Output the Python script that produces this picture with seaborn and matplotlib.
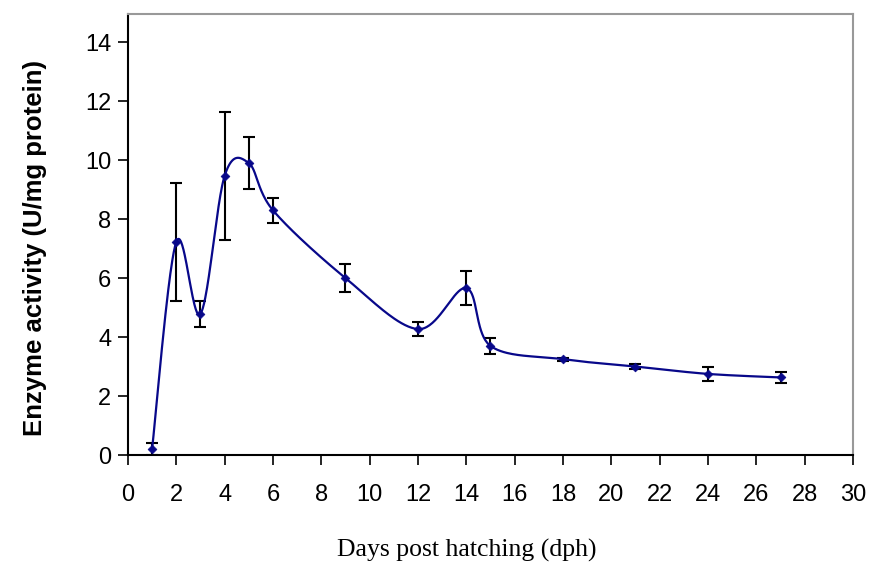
import numpy as np
import pandas as pd
import matplotlib
matplotlib.use("Agg")
import matplotlib.pyplot as plt
import seaborn as sns

# Data
days = [1, 2, 3, 4, 5, 6, 9, 12, 14, 15, 18, 21, 24, 27]
activity = [0.20, 7.22, 4.78, 9.46, 9.90, 8.30, 6.00, 4.27, 5.66, 3.70, 3.25, 3.00, 2.75, 2.63]
errors = [0.20, 2.00, 0.43, 2.17, 0.87, 0.43, 0.48, 0.25, 0.58, 0.27, 0.05, 0.07, 0.25, 0.20]
x_ticks = list(range(0, 31, 2))
y_ticks = list(range(0, 15, 2))

sns.set_theme(style="white")
plt.rcParams['font.family'] = ['Liberation Sans', 'DejaVu Sans']
plt.rcParams['text.color'] = 'black'
plt.rcParams['axes.labelcolor'] = 'black'
plt.rcParams['xtick.color'] = 'black'
plt.rcParams['ytick.color'] = 'black'


def smooth_curve(xs, ys, n=40):
    """Catmull-Rom style Bezier smoothing (like a spreadsheet smoothed line)."""
    pts = np.column_stack([xs, ys]).astype(float)
    m = len(pts)
    out = []
    for i in range(m - 1):
        p0 = pts[i - 1] if i > 0 else pts[i]
        p1 = pts[i]
        p2 = pts[i + 1]
        p3 = pts[i + 2] if i + 2 < m else pts[i + 1]
        c1 = p1 + (p2 - p0) / 6.0
        c2 = p2 - (p3 - p1) / 6.0
        t = np.linspace(0, 1, n, endpoint=(i == m - 2))[:, None]
        seg = ((1 - t) ** 3) * p1 + 3 * ((1 - t) ** 2) * t * c1 + 3 * (1 - t) * t ** 2 * c2 + t ** 3 * p2
        out.append(seg)
    out = np.vstack(out)
    return out[:, 0], out[:, 1]


sx, sy = smooth_curve(days, activity)
curve = pd.DataFrame({"x": sx, "y": sy})
pts = pd.DataFrame({"day": days, "activity": activity, "err": errors})

fig = plt.figure(figsize=(8.7, 5.63), dpi=100)
ax = fig.add_axes([0.147, 0.1918, 0.8335, 0.7832])

navy = "#08088a"
ax.errorbar(pts["day"], pts["activity"], yerr=pts["err"], fmt="none",
            ecolor="black", elinewidth=1.5, capsize=4.5, capthick=1.5, zorder=2)
sns.lineplot(data=curve, x="x", y="y", ax=ax, color=navy, linewidth=1.6,
             sort=False, estimator=None, zorder=3)
sns.scatterplot(data=pts, x="day", y="activity", ax=ax, marker="D", s=20,
                color=navy, edgecolor=navy, linewidth=0.5, zorder=4)

ax.set_xlim(0, 30)
ax.set_ylim(0, 14.95)
ax.set_xticks(x_ticks)
ax.set_yticks(y_ticks)
ax.set_xticklabels([str(v) for v in x_ticks], fontsize=17, color="black")
ax.set_yticklabels([str(v) for v in y_ticks], fontsize=17, color="black")

ax.tick_params(axis="x", direction="out", length=7, width=1.2, pad=14, colors="black")
ax.tick_params(axis="y", direction="out", length=7, width=1.2, pad=5, colors="black")
ax.tick_params(bottom=True, left=True, top=False, right=False)

for side in ["left", "bottom"]:
    ax.spines[side].set_color("black")
    ax.spines[side].set_linewidth(1.5)
for side in ["top", "right"]:
    ax.spines[side].set_visible(True)
    ax.spines[side].set_color("#999999")
    ax.spines[side].set_linewidth(1.5)

ax.set_xlabel("Days post hatching (dph)", fontsize=18.5, color="black",
              family=['Liberation Serif', 'DejaVu Serif'])
ax.xaxis.set_label_coords(0.4676, -0.19)
ax.set_ylabel("Enzyme activity (U/mg protein)", fontsize=18.5, fontweight="bold",
              color="black")
ax.yaxis.set_label_coords(-0.112, 0.469)
ax.grid(False)

fig.savefig("out.png", dpi=100, facecolor="white")
